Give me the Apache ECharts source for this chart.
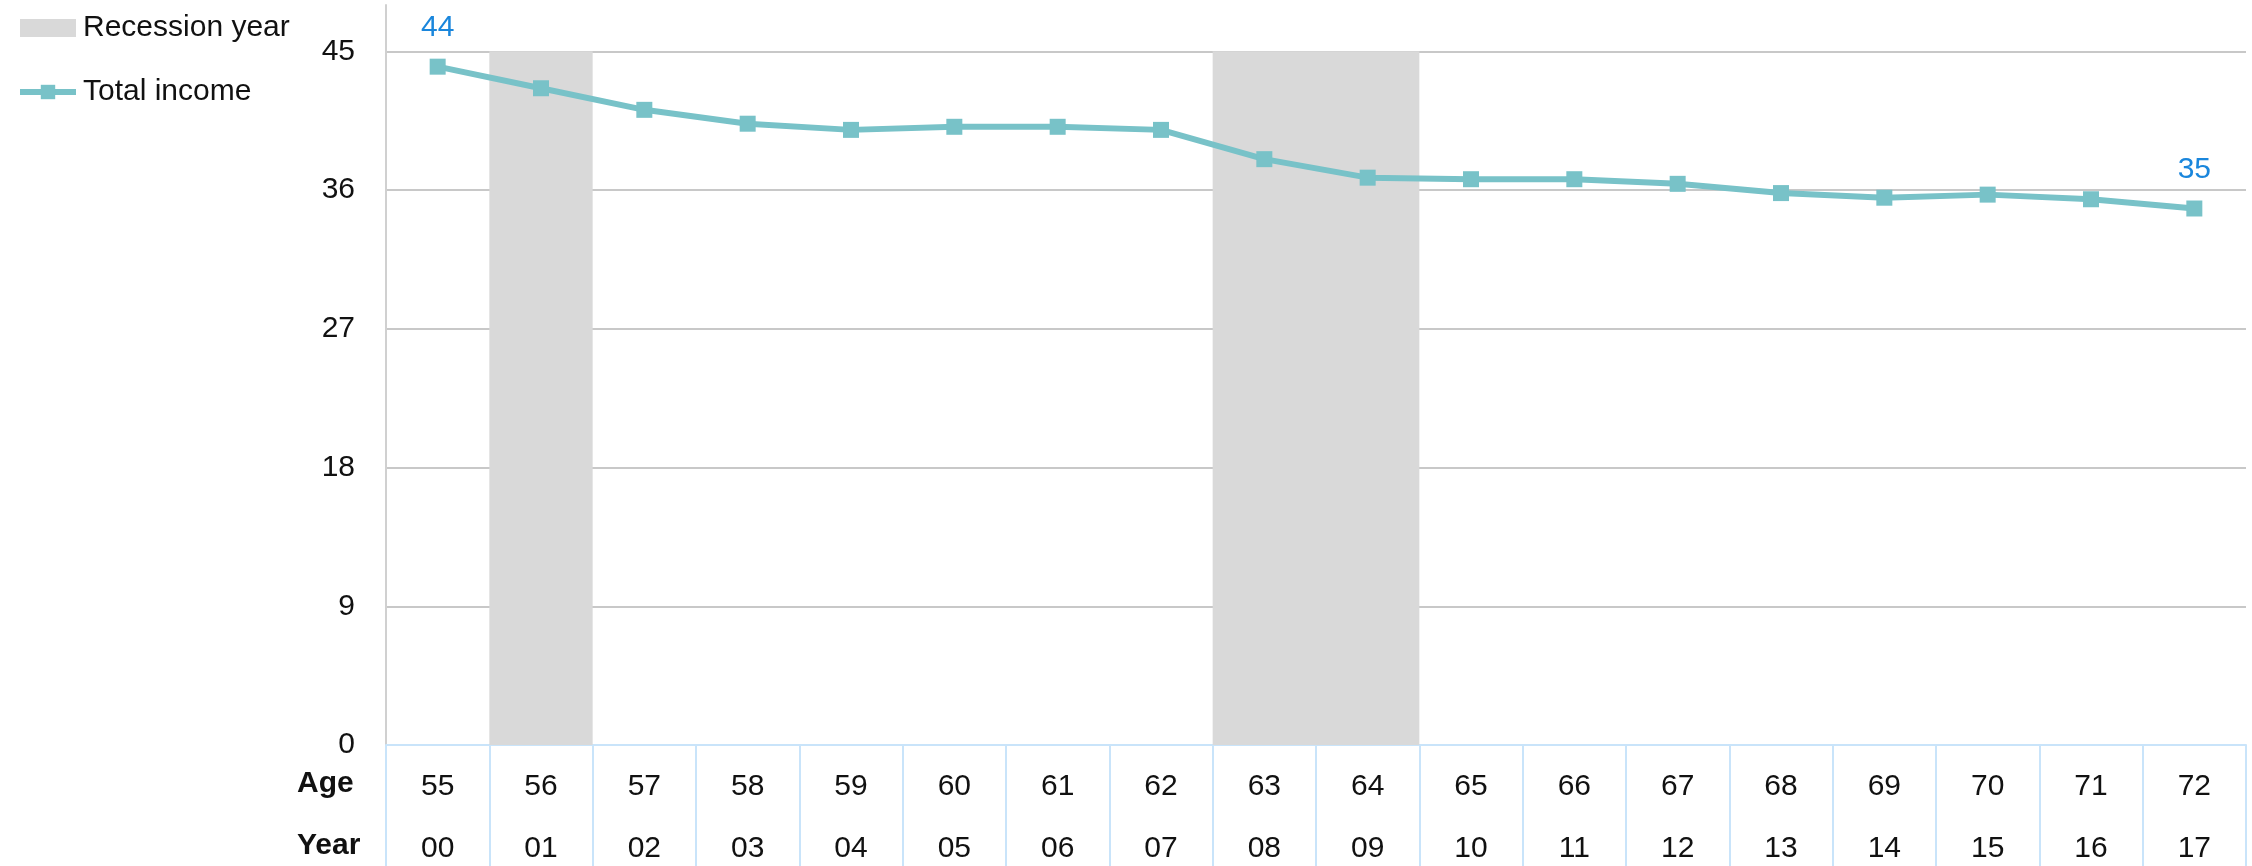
<!DOCTYPE html>
<html>
<head>
<meta charset="utf-8">
<style>
  html, body { margin: 0; padding: 0; background: #ffffff; }
  #chart { width: 2252px; height: 866px; }
</style>
<script src="https://cdn.jsdelivr.net/npm/echarts@6/dist/echarts.min.js"></script>
</head>
<body>
<div id="chart"></div>
<script>
// Age and calendar year (two-digit) for each column
const ages = ['55', '56', '57', '58', '59', '60', '61', '62', '63', '64', '65', '66', '67', '68', '69', '70', '71', '72'];
const years = ['00', '01', '02', '03', '04', '05', '06', '07', '08', '09', '10', '11', '12', '13', '14', '15', '16', '17'];

// Total income by year
const totalIncome = [44.0, 42.6, 41.2, 40.3, 39.9, 40.1, 40.1, 39.9, 38.0, 36.8, 36.7, 36.7, 36.4, 35.8, 35.5, 35.7, 35.4, 34.8];

// Years shaded as recessions, and the height of the shading
const recessionYears = ['01', '08', '09'];
const recessionHeight = 45;

// Value axis ticks
const yStep = 9;
const yTickMax = 45;

const FONT = "'Liberation Sans', Arial, sans-serif";
const TEAL = '#78c2c8';

const recessionData = years.map(y => recessionYears.includes(y) ? recessionHeight : null);
const lastIdx = totalIncome.length - 1;
const incomeData = totalIncome.map((v, i) => ({
  value: v,
  label: { show: i === 0 || i === lastIdx }
}));

const chart = echarts.init(document.getElementById('chart'), null, { renderer: 'canvas' });

chart.setOption({
  animation: false,
  backgroundColor: '#ffffff',
  textStyle: { fontFamily: FONT },
  legend: {
    orient: 'vertical',
    left: 12,
    top: 5,
    itemWidth: 56,
    itemHeight: 18,
    itemGap: 28,
    textStyle: { fontFamily: FONT, fontSize: 30, color: '#111111', lineHeight: 36, padding: [0, 0, 0, 2] },
    data: [
      { name: 'Recession year', icon: 'rect' },
      { name: 'Total income', lineStyle: { width: 6 } }
    ]
  },
  grid: { left: 386, right: 6, top: 5, bottom: 121, containLabel: false },
  xAxis: {
    type: 'category',
    data: years,
    boundaryGap: true,
    axisLine: { show: true, lineStyle: { color: '#c9e4fa', width: 2 } },
    axisTick: { show: true, interval: 0, length: 121, lineStyle: { color: '#c9e4fa', width: 2 } },
    axisLabel: {
      interval: 0,
      margin: 11,
      formatter: (val, idx) => '{a|' + ages[idx] + '}\n{b|' + years[idx] + '}',
      rich: {
        a: { fontFamily: FONT, fontSize: 30, color: '#111111', lineHeight: 62, align: 'center' },
        b: { fontFamily: FONT, fontSize: 30, color: '#111111', lineHeight: 62, align: 'center' }
      }
    },
    splitLine: { show: false }
  },
  yAxis: {
    type: 'value',
    min: 0,
    max: 48,
    interval: yStep,
    axisLine: { show: true, lineStyle: { color: '#d0d0d0', width: 2 } },
    axisTick: { show: false },
    axisLabel: {
      margin: 31,
      fontFamily: FONT,
      fontSize: 30,
      color: '#111111',
      formatter: v => (v % yStep === 0 && v <= yTickMax) ? String(v) : ''
    },
    splitLine: { show: true, showMaxLine: false, lineStyle: { color: '#c8c8c8', width: 2 } }
  },
  series: [
    {
      name: 'Recession year',
      type: 'bar',
      data: recessionData,
      barWidth: '100%',
      barGap: '-100%',
      itemStyle: { color: '#d9d9d9' },
      z: 1,
      silent: true
    },
    {
      name: 'Total income',
      type: 'line',
      data: incomeData,
      symbol: 'rect',
      symbolSize: 16,
      lineStyle: { color: TEAL, width: 6 },
      itemStyle: { color: TEAL },
      label: {
        show: false,
        position: 'top',
        distance: 16,
        fontFamily: FONT,
        fontSize: 30,
        color: '#1a86dc',
        formatter: p => String(Math.round(p.value))
      },
      z: 3
    }
  ],
  graphic: [
    {
      type: 'text',
      left: 297,
      top: 769,
      style: { text: 'Age', font: "bold 30px 'Liberation Sans', Arial, sans-serif", fill: '#111111' }
    },
    {
      type: 'text',
      left: 297,
      top: 831,
      style: { text: 'Year', font: "bold 30px 'Liberation Sans', Arial, sans-serif", fill: '#111111' }
    }
  ]
});
</script>
</body>
</html>
